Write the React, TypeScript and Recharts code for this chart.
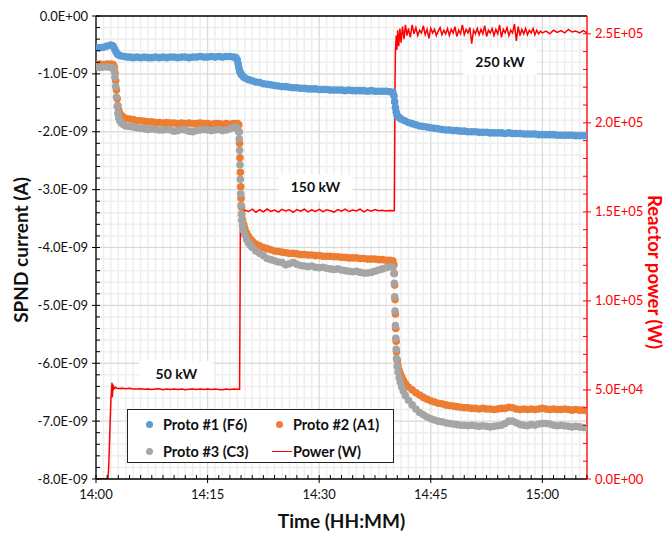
import React from "react";
import {
  ComposedChart,
  Scatter,
  Line,
  XAxis,
  YAxis,
  CartesianGrid,
  Legend,
  ReferenceDot,
  ReferenceLine,
} from "recharts";

// time in minutes after 14:00, current in units of 1E-09 A
const proto1: [number, number][] = [
  [0, -0.54], [0.5, -0.55], [1, -0.54], [1.5, -0.52], [2, -0.5], [2.3, -0.52], [2.5, -0.57], [2.7, -0.62],
  [2.9, -0.66], [3.1, -0.68], [3.4, -0.69], [3.8, -0.7], [4.2, -0.71], [4.6, -0.71], [5, -0.72], [5.5, -0.71],
  [6, -0.72], [6.5, -0.71], [7, -0.72], [7.5, -0.72], [8, -0.71], [8.5, -0.72], [9, -0.71], [9.5, -0.72],
  [10, -0.71], [10.5, -0.71], [11, -0.72], [11.5, -0.71], [12, -0.71], [12.5, -0.72], [13, -0.71], [13.5, -0.71],
  [14, -0.7], [14.5, -0.71], [15, -0.71], [15.5, -0.7], [16, -0.71], [16.5, -0.7], [17, -0.71], [17.5, -0.7],
  [18, -0.7], [18.5, -0.71], [18.8, -0.72], [19, -0.76], [19.1, -0.82], [19.2, -0.89], [19.3, -0.95], [19.45, -0.99],
  [19.6, -1.02], [19.8, -1.05], [20, -1.07], [20.5, -1.1], [21, -1.12], [21.5, -1.14], [22, -1.15], [22.5, -1.17],
  [23, -1.18], [23.5, -1.19], [24, -1.2], [24.5, -1.21], [25, -1.22], [25.5, -1.22], [26, -1.23], [26.5, -1.24],
  [27, -1.24], [27.5, -1.25], [28, -1.25], [28.5, -1.26], [29, -1.26], [29.5, -1.26], [30, -1.27], [30.5, -1.27],
  [31, -1.27], [31.5, -1.28], [32, -1.28], [32.5, -1.28], [33, -1.28], [33.5, -1.29], [34, -1.28], [34.5, -1.29],
  [35, -1.29], [35.5, -1.29], [36, -1.29], [36.5, -1.3], [37, -1.29], [37.5, -1.3], [38, -1.3], [38.5, -1.3],
  [39, -1.3], [39.5, -1.31], [39.9, -1.32], [40.05, -1.38], [40.15, -1.48], [40.25, -1.58], [40.35, -1.66], [40.45, -1.71],
  [40.6, -1.74], [40.8, -1.76], [41, -1.78], [41.5, -1.81], [42, -1.84], [42.5, -1.86], [43, -1.88], [43.5, -1.9],
  [44, -1.91], [44.5, -1.92], [45, -1.93], [45.5, -1.94], [46, -1.95], [46.5, -1.96], [47, -1.97], [47.5, -1.97],
  [48, -1.98], [48.5, -1.98], [49, -1.99], [49.5, -1.99], [50, -2.0], [50.5, -2.0], [51, -2.0], [51.5, -2.01],
  [52, -2.01], [52.5, -2.01], [53, -2.02], [53.5, -2.02], [54, -2.02], [54.5, -2.02], [55, -2.03], [55.5, -2.02],
  [56, -2.03], [56.5, -2.03], [57, -2.03], [57.5, -2.04], [58, -2.04], [58.5, -2.04], [59, -2.04], [59.5, -2.05],
  [60, -2.05], [60.5, -2.05], [61, -2.05], [61.5, -2.05], [62, -2.06], [62.5, -2.06], [63, -2.06], [63.5, -2.06],
  [64, -2.06], [64.5, -2.07], [65, -2.07], [65.5, -2.07], [66, -2.07],
];

const proto2: [number, number][] = [
  [0, -0.83], [0.5, -0.83], [1, -0.84], [1.5, -0.83], [2, -0.83], [2.3, -0.84], [2.45, -0.88], [2.55, -0.98],
  [2.65, -1.12], [2.75, -1.28], [2.85, -1.43], [2.95, -1.55], [3.05, -1.63], [3.2, -1.68], [3.4, -1.72], [3.7, -1.75],
  [4, -1.77], [4.5, -1.78], [5, -1.79], [5.5, -1.81], [6, -1.81], [6.5, -1.82], [7, -1.83], [7.5, -1.83],
  [8, -1.84], [8.5, -1.84], [9, -1.85], [9.5, -1.84], [10, -1.85], [10.5, -1.85], [11, -1.86], [11.5, -1.85],
  [12, -1.86], [12.5, -1.85], [13, -1.86], [13.5, -1.86], [14, -1.85], [14.5, -1.86], [15, -1.86], [15.5, -1.87],
  [16, -1.86], [16.5, -1.86], [17, -1.87], [17.5, -1.86], [18, -1.87], [18.5, -1.86], [19, -1.86], [19.2, -1.88],
  [19.25, -2.0], [19.3, -2.2], [19.35, -2.45], [19.4, -2.7], [19.45, -2.95], [19.5, -3.15], [19.55, -3.3], [19.6, -3.42],
  [19.7, -3.52], [19.85, -3.6], [20, -3.67], [20.25, -3.75], [20.5, -3.81], [20.75, -3.86], [21, -3.89], [21.5, -3.94],
  [22, -3.97], [22.5, -4.0], [23, -4.02], [23.5, -4.04], [24, -4.06], [24.5, -4.07], [25, -4.08], [25.5, -4.09],
  [26, -4.1], [26.5, -4.1], [27, -4.11], [27.5, -4.12], [28, -4.12], [28.5, -4.13], [29, -4.13], [29.5, -4.14],
  [30, -4.14], [30.5, -4.15], [31, -4.15], [31.5, -4.15], [32, -4.16], [32.5, -4.16], [33, -4.17], [33.5, -4.17],
  [34, -4.18], [34.5, -4.18], [35, -4.18], [35.5, -4.19], [36, -4.19], [36.5, -4.2], [37, -4.2], [37.5, -4.2],
  [38, -4.21], [38.5, -4.21], [39, -4.22], [39.5, -4.22], [39.9, -4.23], [40.05, -4.3], [40.1, -4.45], [40.15, -4.65],
  [40.2, -4.9], [40.25, -5.15], [40.3, -5.4], [40.35, -5.62], [40.4, -5.8], [40.5, -5.95], [40.6, -6.04], [40.75, -6.12],
  [40.9, -6.18], [41.1, -6.24], [41.3, -6.29], [41.6, -6.35], [42, -6.41], [42.5, -6.46], [43, -6.51], [43.5, -6.55],
  [44, -6.59], [44.5, -6.62], [45, -6.65], [45.5, -6.67], [46, -6.69], [46.5, -6.7], [47, -6.72], [47.5, -6.73],
  [48, -6.74], [48.5, -6.75], [49, -6.76], [49.5, -6.77], [50, -6.77], [50.5, -6.78], [51, -6.78], [51.5, -6.79],
  [52, -6.78], [52.5, -6.79], [53, -6.79], [53.5, -6.8], [54, -6.79], [54.5, -6.78], [55, -6.78], [55.5, -6.76],
  [56, -6.77], [56.5, -6.79], [57, -6.8], [57.5, -6.79], [58, -6.8], [58.5, -6.79], [59, -6.8], [59.5, -6.79],
  [60, -6.78], [60.5, -6.79], [61, -6.8], [61.5, -6.79], [62, -6.8], [62.5, -6.8], [63, -6.79], [63.5, -6.8],
  [64, -6.81], [64.5, -6.8], [65, -6.81], [65.5, -6.81], [66, -6.82],
];

const proto3: [number, number][] = [
  [0, -0.88], [0.5, -0.89], [1, -0.88], [1.5, -0.88], [2, -0.89], [2.3, -0.9], [2.45, -0.94], [2.55, -1.06],
  [2.65, -1.22], [2.75, -1.4], [2.85, -1.56], [2.95, -1.68], [3.05, -1.76], [3.2, -1.81], [3.4, -1.85], [3.7, -1.88],
  [4, -1.9], [4.5, -1.91], [5, -1.92], [5.5, -1.93], [6, -1.94], [6.5, -1.95], [7, -1.96], [7.5, -1.95],
  [8, -1.96], [8.5, -1.97], [9, -1.97], [9.5, -1.96], [10, -1.97], [10.5, -1.99], [11, -1.98], [11.5, -1.96],
  [12, -1.97], [12.5, -1.99], [13, -2.0], [13.5, -1.98], [14, -1.97], [14.5, -1.96], [15, -1.97], [15.5, -1.98],
  [16, -1.97], [16.5, -1.96], [17, -1.98], [17.5, -1.97], [18, -1.95], [18.5, -1.93], [18.8, -1.92], [19, -1.95],
  [19.2, -2.0], [19.25, -2.12], [19.3, -2.32], [19.35, -2.57], [19.4, -2.82], [19.45, -3.07], [19.5, -3.27], [19.55, -3.42],
  [19.6, -3.53], [19.7, -3.62], [19.85, -3.71], [20, -3.78], [20.25, -3.86], [20.5, -3.92], [20.75, -3.96], [21, -4.0],
  [21.5, -4.06], [22, -4.1], [22.5, -4.14], [23, -4.19], [23.5, -4.21], [24, -4.23], [24.5, -4.25], [25, -4.26],
  [25.5, -4.3], [26, -4.28], [26.5, -4.26], [27, -4.29], [27.5, -4.31], [28, -4.32], [28.5, -4.33], [29, -4.32],
  [29.5, -4.34], [30, -4.35], [30.5, -4.34], [31, -4.36], [31.5, -4.37], [32, -4.38], [32.5, -4.37], [33, -4.39],
  [33.5, -4.4], [34, -4.41], [34.5, -4.42], [35, -4.41], [35.5, -4.43], [36, -4.44], [36.5, -4.44], [37, -4.43],
  [37.5, -4.41], [38, -4.39], [38.5, -4.37], [39, -4.35], [39.5, -4.33], [39.9, -4.34], [40.05, -4.45], [40.1, -4.62],
  [40.15, -4.85], [40.2, -5.1], [40.25, -5.35], [40.3, -5.57], [40.35, -5.76], [40.4, -5.92], [40.5, -6.05], [40.6, -6.15],
  [40.75, -6.25], [40.9, -6.33], [41.1, -6.41], [41.3, -6.48], [41.6, -6.56], [42, -6.64], [42.5, -6.72], [43, -6.79],
  [43.5, -6.85], [44, -6.89], [44.5, -6.93], [45, -6.96], [45.5, -6.98], [46, -7.0], [46.5, -7.01], [47, -7.03],
  [47.5, -7.04], [48, -7.05], [48.5, -7.06], [49, -7.07], [49.5, -7.07], [50, -7.08], [50.5, -7.07], [51, -7.08],
  [51.5, -7.09], [52, -7.08], [52.5, -7.09], [53, -7.1], [53.5, -7.09], [54, -7.08], [54.5, -7.07], [55, -7.04],
  [55.5, -7.0], [56, -7.0], [56.5, -7.03], [57, -7.06], [57.5, -7.07], [58, -7.08], [58.5, -7.06], [59, -7.07],
  [59.5, -7.05], [60, -7.04], [60.5, -7.04], [61, -7.05], [61.5, -7.07], [62, -7.08], [62.5, -7.07], [63, -7.08],
  [63.5, -7.09], [64, -7.1], [64.5, -7.09], [65, -7.1], [65.5, -7.11], [66, -7.12],
];

// reactor power in W
const powerW: [number, number][] = [
  [0, 0], [1, 0], [1.6, 0], [1.7, 6000], [1.8, 18000], [1.9, 32000], [2.0, 44000], [2.1, 51000],
  [2.15, 54000], [2.2, 46000], [2.3, 53000], [2.4, 50500], [2.6, 51500], [2.8, 51000], [3.0, 50800], [3.5, 51000],
  [4, 50700], [4.5, 50900], [5, 50600], [5.5, 50500], [6, 50700], [6.5, 50400], [7, 50600], [7.5, 50200],
  [8, 50500], [8.5, 50700], [9, 50100], [9.5, 50500], [10, 50300], [10.5, 50600], [11, 50200], [11.5, 50500],
  [12, 50100], [12.5, 50400], [13, 50600], [13.5, 50200], [14, 50500], [14.5, 50300], [15, 50600], [15.5, 50200],
  [16, 50500], [16.5, 50300], [17, 50100], [17.5, 50500], [18, 50300], [18.5, 50600], [19, 50400], [19.3, 50400],
  [19.35, 90000], [19.4, 140000], [19.45, 153000], [19.5, 147000], [19.55, 155000], [19.6, 149000], [19.7, 152000], [19.85, 149500],
  [20, 151000], [20.5, 150200], [21, 151500], [21.5, 149800], [22, 151200], [22.5, 150000], [23, 151600], [23.5, 150300],
  [24, 151000], [24.5, 149900], [25, 151400], [25.5, 150500], [26, 151200], [26.5, 149800], [27, 151300], [27.5, 150400],
  [28, 151500], [28.5, 150000], [29, 151100], [29.5, 150300], [30, 151400], [30.5, 150100], [31, 151200], [31.5, 150600],
  [32, 149900], [32.5, 151300], [33, 150400], [33.5, 151600], [34, 150200], [34.5, 151000], [35, 150500], [35.5, 151500],
  [36, 150000], [36.5, 151200], [37, 150400], [37.5, 151300], [38, 150600], [38.5, 150900], [39, 150500], [39.5, 150800],
  [40, 150600], [40.1, 150700], [40.15, 185000], [40.2, 225000], [40.25, 240000], [40.35, 249000], [40.45, 241000], [40.55, 252000],
  [40.7, 243000], [40.85, 253000], [41, 245000], [41.2, 254000], [41.4, 247000], [41.6, 255000], [41.8, 249000], [42, 253000],
  [42.25, 248000], [42.5, 255000], [42.75, 250000], [43, 253500], [43.25, 249000], [43.5, 252000], [43.75, 250500], [44, 254500],
  [44.25, 249500], [44.5, 252500], [44.75, 247500], [45, 253000], [45.25, 250500], [45.5, 252500], [45.75, 249000], [46, 251500],
  [46.25, 253500], [46.5, 249500], [46.75, 252000], [47, 250000], [47.25, 253000], [47.5, 249000], [47.75, 252500], [48, 250500],
  [48.25, 254000], [48.5, 248500], [48.75, 252000], [49, 250000], [49.25, 255000], [49.5, 249500], [49.75, 252500], [50, 250500],
  [50.25, 253500], [50.5, 244500], [50.75, 252000], [51, 250000], [51.25, 253000], [51.5, 249500], [51.75, 252500], [52, 250000],
  [52.25, 254500], [52.5, 248500], [52.75, 252000], [53, 250500], [53.25, 253000], [53.5, 249000], [53.75, 252500], [54, 250000],
  [54.25, 255000], [54.5, 248000], [54.75, 252500], [55, 250500], [55.25, 253500], [55.5, 249000], [55.75, 252000], [56, 250500],
  [56.25, 255500], [56.5, 246000], [56.75, 254000], [57, 249000], [57.25, 252500], [57.5, 250000], [57.75, 253000], [58, 249500],
  [58.25, 252000], [58.5, 250500], [58.75, 253000], [59, 249500], [59.25, 252000], [59.5, 250000], [59.75, 251500], [60, 250500],
  [60.5, 251500], [61, 250000], [61.5, 252000], [62, 250800], [62.5, 251800], [63, 250500], [63.5, 252500], [64, 251000],
  [64.5, 251500], [65, 250500], [65.5, 251800], [66, 250500],
];

const seriesNames = ["Proto #1 (F6)", "Proto #2 (A1)", "Proto #3 (C3)", "Power (W)"];
const seriesColors = ["#5B9BD5", "#ED7D31", "#A5A5A5", "#FF0000"];

const powerNotes = [
  { t: 10.8, p: 59000, text: "50 kW" },
  { t: 29.5, p: 163700, text: "150 kW" },
  { t: 54.3, p: 234300, text: "250 kW" },
];

const timeLabels: Record<number, string> = { 0: "14:00", 15: "14:15", 30: "14:30", 45: "14:45", 60: "15:00" };

const leftTicks = Array.from({ length: 41 }, (_, i) => +(-8 + i * 0.2).toFixed(1));
const rightTicks = Array.from({ length: 26 }, (_, i) => i * 10000);
const xTicks = Array.from({ length: 45 }, (_, i) => i * 1.5);
const xMinorGrid = Array.from({ length: 67 }, (_, i) => i);
const xMajorGrid = [15, 30, 45, 60];
const yMajorGrid = [-7, -6, -5, -4, -3, -2, -1];

const FONT = "Lato, 'Open Sans', sans-serif";

const toPts = (arr: [number, number][]) => arr.map(([t, v]) => ({ t, v }));

const expLabel = (v: number) => {
  const [m, e] = v.toExponential(1).split("e");
  const sign = e[0] === "-" ? "-" : "+";
  const digits = e.replace(/[+-]/, "").padStart(2, "0");
  return `${m}E${sign}${digits}`;
};

const isWhole = (v: number, step: number) => Math.abs(v / step - Math.round(v / step)) < 1e-6;

const LeftTick = ({ x, y, payload }: any) => {
  const v = payload.value;
  if (isWhole(v, 1)) {
    return (
      <g>
        <line x1={x - 4} x2={x + 4} y1={y} y2={y} stroke="#000" />
        <text x={x - 8} y={y} dy={4.5} textAnchor="end" fontSize={13} fontFamily={FONT} fill="#111">
          {expLabel(v * 1e-9)}
        </text>
      </g>
    );
  }
  return <line x1={x} x2={x + 4} y1={y} y2={y} stroke="#000" />;
};

const RightTick = ({ x, y, payload }: any) => {
  const v = payload.value;
  if (isWhole(v, 50000)) {
    return (
      <g>
        <line x1={x - 4} x2={x + 4} y1={y} y2={y} stroke="#FF0000" />
        <text x={x + 8} y={y} dy={4.5} textAnchor="start" fontSize={13} fontFamily={FONT} fill="#FF0000">
          {expLabel(v)}
        </text>
      </g>
    );
  }
  return <line x1={x - 4} x2={x} y1={y} y2={y} stroke="#FF0000" />;
};

const BottomTick = ({ x, y, payload }: any) => {
  const v = payload.value;
  if (timeLabels[v] !== undefined) {
    return (
      <g>
        <line x1={x} x2={x} y1={y - 4} y2={y + 4} stroke="#000" />
        <text x={x} y={y + 20} textAnchor="middle" fontSize={13} fontFamily={FONT} fill="#111">
          {timeLabels[v]}
        </text>
      </g>
    );
  }
  return <line x1={x} x2={x} y1={y - 4} y2={y} stroke="#000" />;
};

const Dot = (color: string) => (props: any) => <circle cx={props.cx} cy={props.cy} r={3.8} fill={color} />;

const NoteBox = (text: string) => (props: any) => (
  <g>
    <rect x={props.cx - 37} y={props.cy - 13} width={74} height={26} fill="#fff" />
    <text x={props.cx} y={props.cy} dy={5} textAnchor="middle" fontSize={14} fontWeight={700} fontFamily={FONT} fill="#111">
      {text}
    </text>
  </g>
);

const LegendBox = () => (
  <div
    style={{
      width: 265,
      height: 52,
      border: "1px solid #222",
      background: "#fff",
      fontFamily: FONT,
      fontWeight: 700,
      fontSize: 14.5,
      color: "#111",
      position: "relative",
    }}
  >
    {seriesNames.map((name, i) => {
      const col = i % 2;
      const row = Math.floor(i / 2);
      const left = col === 0 ? 14 : 144;
      const top = row === 0 ? 4 : 31;
      return (
        <div key={name} style={{ position: "absolute", left, top, height: 20, display: "flex", alignItems: "center" }}>
          {i === 3 ? (
            <span style={{ display: "inline-block", width: 20, height: 0, borderTop: `1.5px solid ${seriesColors[i]}`, marginRight: 1 }} />
          ) : (
            <span style={{ display: "inline-block", width: 7, height: 7, borderRadius: 4, background: seriesColors[i], margin: "0 10px 0 4px" }} />
          )}
          <span>{name}</span>
        </div>
      );
    })}
  </div>
);

export default function App() {
  return (
    <div style={{ position: "absolute", left: 0, top: 0, background: "#fff" }}>
      <ComposedChart width={665} height={534} margin={{ top: 16, right: 0, bottom: 0, left: 0 }}>
        <CartesianGrid
          xAxisId="x"
          yAxisId="left"
          stroke="#eeeeee"
          strokeWidth={1.5}
          horizontalValues={leftTicks}
          verticalValues={xMinorGrid}
        />
        <CartesianGrid
          xAxisId="x"
          yAxisId="left"
          stroke="#d9d9d9"
          strokeWidth={1}
          horizontalValues={yMajorGrid}
          verticalValues={xMajorGrid}
        />
        <XAxis
          xAxisId="x"
          dataKey="t"
          type="number"
          domain={[0, 66]}
          ticks={xTicks}
          interval={0}
          height={55}
          tickSize={0}
          tickMargin={0}
          tick={<BottomTick />}
          stroke="#000"
          strokeWidth={1.3}
          allowDataOverflow
          label={{
            content: () => (
              <text x={341.5} y={528} textAnchor="middle" fontSize={19} fontWeight={700} fontFamily={FONT} fill="#111">
                Time (HH:MM)
              </text>
            ),
          }}
        />
        <YAxis
          yAxisId="left"
          type="number"
          domain={[-8, 0]}
          ticks={leftTicks}
          interval={0}
          width={96}
          tickSize={0}
          tickMargin={0}
          tick={<LeftTick />}
          stroke="#000"
          strokeWidth={1.3}
          allowDataOverflow
          label={{
            content: () => (
              <text
                x={0}
                y={0}
                transform="translate(20 250) rotate(-90)"
                textAnchor="middle"
                dominantBaseline="central"
                fontSize={19}
                fontWeight={700}
                fontFamily={FONT}
                fill="#111"
              >
                SPND current (A)
              </text>
            ),
          }}
        />
        <YAxis
          yAxisId="right"
          orientation="right"
          type="number"
          domain={[0, 260000]}
          ticks={rightTicks}
          interval={0}
          width={78}
          tickSize={0}
          tickMargin={0}
          tick={<RightTick />}
          stroke="#FF0000"
          strokeWidth={1.3}
          allowDataOverflow
          label={{
            content: () => (
              <text
                x={0}
                y={0}
                transform="translate(655 272) rotate(90)"
                textAnchor="middle"
                dominantBaseline="central"
                fontSize={18.5}
                fontWeight={700}
                fontFamily={FONT}
                fill="#FF0000"
              >
                Reactor power (W)
              </text>
            ),
          }}
        />
        <ReferenceLine xAxisId="x" yAxisId="left" y={0} stroke="#000" strokeWidth={1.3} />
        <Scatter
          xAxisId="x"
          yAxisId="left"
          name={seriesNames[0]}
          data={toPts(proto1)}
          dataKey="v"
          fill={seriesColors[0]}
          shape={Dot(seriesColors[0])}
          isAnimationActive={false}
        />
        <Scatter
          xAxisId="x"
          yAxisId="left"
          name={seriesNames[1]}
          data={toPts(proto2)}
          dataKey="v"
          fill={seriesColors[1]}
          shape={Dot(seriesColors[1])}
          isAnimationActive={false}
        />
        <Scatter
          xAxisId="x"
          yAxisId="left"
          name={seriesNames[2]}
          data={toPts(proto3)}
          dataKey="v"
          fill={seriesColors[2]}
          shape={Dot(seriesColors[2])}
          isAnimationActive={false}
        />
        <Line
          xAxisId="x"
          yAxisId="right"
          name={seriesNames[3]}
          data={toPts(powerW)}
          dataKey="v"
          type="linear"
          stroke={seriesColors[3]}
          strokeWidth={1.5}
          dot={false}
          isAnimationActive={false}
        />
        {powerNotes.map((n) => (
          <ReferenceDot
            key={n.text}
            xAxisId="x"
            yAxisId="right"
            x={n.t}
            y={n.p}
            r={0}
            shape={NoteBox(n.text)}
          />
        ))}
        <Legend
          layout="horizontal"
          verticalAlign="middle"
          align="center"
          wrapperStyle={{ left: 127, top: 409, width: 267, height: 54 }}
          content={() => <LegendBox />}
        />
      </ComposedChart>
    </div>
  );
}
